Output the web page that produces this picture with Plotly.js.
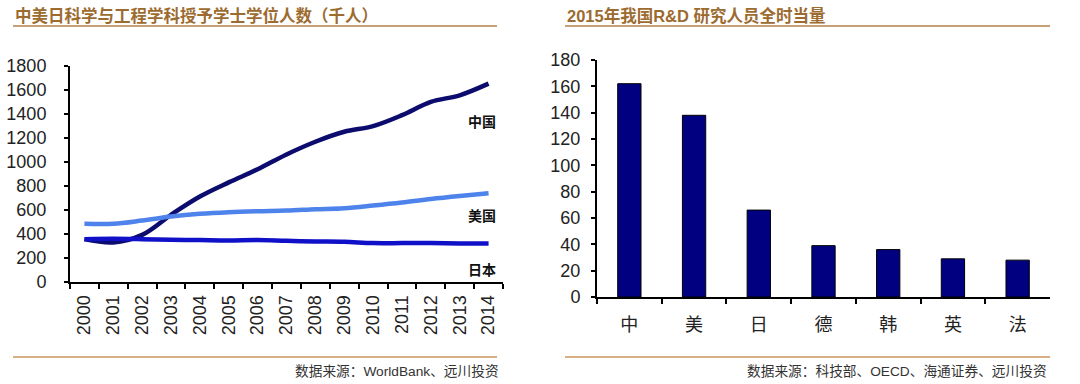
<!DOCTYPE html>
<html><head><meta charset="utf-8">
<script src="https://cdn.plot.ly/plotly-3.0.1.min.js"></script>
<style>html,body{margin:0;padding:0;background:#fff}#c{width:1080px;height:384px}</style>
</head><body><div id="c"></div>
<script>
const years = ["2000","2001","2002","2003","2004","2005","2006","2007","2008","2009","2010","2011","2012","2013","2014"];
const china = [357,330,393,560,712,830,939,1063,1169,1252,1299,1390,1501,1556,1653];
const usa   = [485,485,512,545,568,582,590,595,606,615,637,662,692,717,739];
const japan = [357,360,357,352,349,346,349,343,338,335,324,324,324,321,321];
const countries = ["中","美","日","德","韩","英","法"];
const rdValues = [162,138,66,39,36,29,28];

const W=1080,H=384;
const px=x=>x/W, py=y=>1-y/H;
const FONT='"Liberation Sans", Arial, "Noto Sans CJK SC", sans-serif';
const CJK='"Liberation Sans", "Noto Sans CJK SC", sans-serif';
const brown='#9c6b30';

const traces=[
 {x:years,y:china,type:'scatter',mode:'lines',line:{color:'#0c0c6e',width:4.5,shape:'spline'},xaxis:'x',yaxis:'y',hoverinfo:'skip',cliponaxis:false},
 {x:years,y:usa,type:'scatter',mode:'lines',line:{color:'#4f83ec',width:4.5,shape:'spline'},xaxis:'x',yaxis:'y',hoverinfo:'skip',cliponaxis:false},
 {x:years,y:japan,type:'scatter',mode:'lines',line:{color:'#1010c8',width:4.5,shape:'spline'},xaxis:'x',yaxis:'y',hoverinfo:'skip',cliponaxis:false},
 {x:countries,y:rdValues,type:'bar',marker:{color:'#000080',line:{color:'#000',width:1}},xaxis:'x2',yaxis:'y2',hoverinfo:'skip'}
];

const axBase={showline:true,linecolor:'#000',linewidth:2,showgrid:false,zeroline:false,ticks:'outside',ticklen:5,tickwidth:2,tickcolor:'#000',tickfont:{family:FONT,size:18,color:'#222'},fixedrange:true};

const layout={
 width:W,height:H,margin:{l:0,r:0,t:0,b:0},paper_bgcolor:'#fff',plot_bgcolor:'#fff',showlegend:false,
 xaxis:Object.assign({},axBase,{domain:[px(70),px(503)],anchor:'y',type:'category',tickson:'boundaries',tickangle:-90,range:[-0.5,14.5],ticklabelstandoff:4}),
 yaxis:Object.assign({},axBase,{domain:[py(282),py(66)],anchor:'x',range:[0,1800],dtick:200,ticklen:4,ticklabelstandoff:14}),
 xaxis2:Object.assign({},axBase,{domain:[px(597),px(1050)],anchor:'y2',type:'category',tickson:'boundaries',tickfont:{family:'"Noto Sans CJK SC", serif',size:18,color:'#222'},range:[-0.5,6.5],ticklabelstandoff:10}),
 yaxis2:Object.assign({},axBase,{domain:[py(297),py(60)],anchor:'x2',range:[0,180],dtick:20,ticklen:4,ticklabelstandoff:7}),
 bargap:0.64,
 annotations:[
  {text:'<b>中美日科学与工程学科授予学士学位人数（千人）</b>',xref:'paper',yref:'paper',x:px(13),y:py(16),xanchor:'left',yanchor:'middle',showarrow:false,font:{family:CJK,size:16.5,color:brown}},
  {text:'<b>2015年我国R&amp;D 研究人员全时当量</b>',xref:'paper',yref:'paper',x:px(565),y:py(16),xanchor:'left',yanchor:'middle',showarrow:false,font:{family:CJK,size:16.5,color:brown}},
  {text:'<b>中国</b>',xref:'paper',yref:'paper',x:px(482),y:py(122),xanchor:'center',yanchor:'middle',showarrow:false,font:{family:CJK,size:14,color:'#111'}},
  {text:'<b>美国</b>',xref:'paper',yref:'paper',x:px(482),y:py(216),xanchor:'center',yanchor:'middle',showarrow:false,font:{family:CJK,size:14,color:'#111'}},
  {text:'<b>日本</b>',xref:'paper',yref:'paper',x:px(482),y:py(270),xanchor:'center',yanchor:'middle',showarrow:false,font:{family:CJK,size:14,color:'#111'}},
  {text:'数据来源：WorldBank、远川投资',xref:'paper',yref:'paper',x:px(501),y:py(371),xanchor:'right',yanchor:'middle',showarrow:false,font:{family:CJK,size:13.7,color:'#333'}},
  {text:'数据来源：科技部、OECD、海通证券、远川投资',xref:'paper',yref:'paper',x:px(1049),y:py(371),xanchor:'right',yanchor:'middle',showarrow:false,font:{family:CJK,size:13.7,color:'#333'}}
 ],
 shapes:[
  {type:'line',xref:'paper',yref:'paper',x0:px(13),x1:px(497),y0:py(26),y1:py(26),line:{color:'#b0824a',width:1.5}},
  {type:'line',xref:'paper',yref:'paper',x0:px(565),x1:px(1050),y0:py(26),y1:py(26),line:{color:'#b0824a',width:1.5}},
  {type:'line',xref:'paper',yref:'paper',x0:px(13),x1:px(497),y0:py(357),y1:py(357),line:{color:'#c8955a',width:1.5}},
  {type:'line',xref:'paper',yref:'paper',x0:px(565),x1:px(1050),y0:py(357),y1:py(357),line:{color:'#c8955a',width:1.5}}
 ]
};
Plotly.newPlot('c',traces,layout,{displayModeBar:false,staticPlot:true});
</script></body></html>
